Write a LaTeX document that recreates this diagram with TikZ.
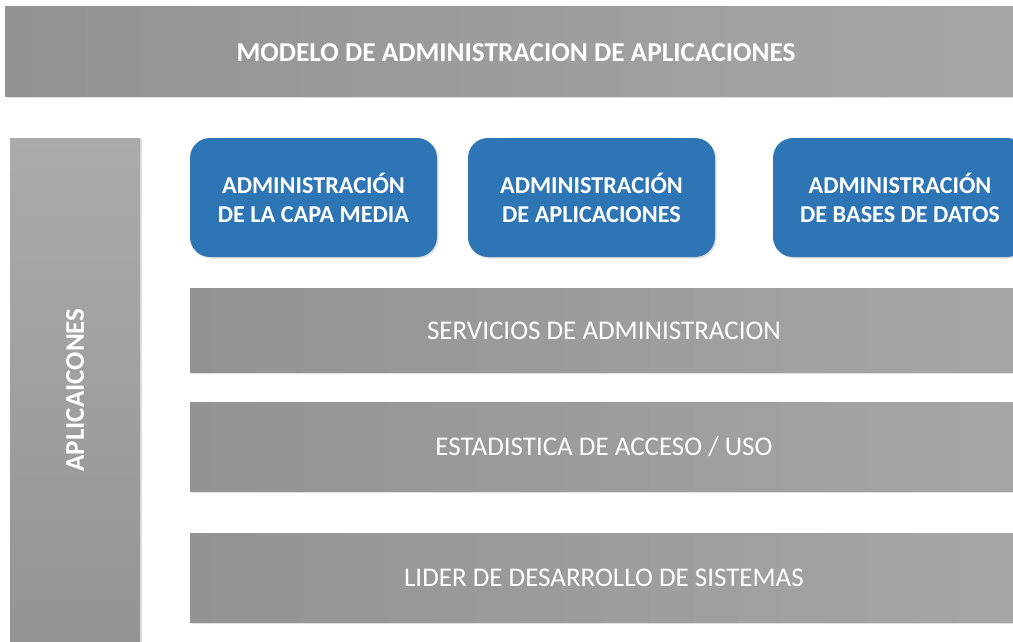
\documentclass[tikz,border=0pt]{standalone}
\usepackage{fontspec}
\setmainfont{Carlito}
\usetikzlibrary{shadows}
\definecolor{bluebox}{HTML}{2E75B6}
\definecolor{grayA}{HTML}{939393}
\definecolor{grayB}{HTML}{ABABAB}
\tikzset{
  px/.style={x=1pt,y=-1pt},
  graybar/.style={left color=grayA, right color=grayB!80!grayA, draw=none,
    drop shadow={shadow xshift=1.5pt,shadow yshift=-1.5pt,opacity=0.25}},
  bluebx/.style={fill=bluebox, draw=none, rounded corners=20pt,
    drop shadow={shadow xshift=1.5pt,shadow yshift=-1.5pt,opacity=0.25}},
  bartext/.style={text=white, font=\fontsize{27}{30}\selectfont},
  boldtext/.style={text=white, font=\bfseries\fontsize{24.2}{29}\selectfont, align=center},
}
\begin{document}
\begin{tikzpicture}[px]
\useasboundingbox (0,0) rectangle (1013,642);
\clip (0,0) rectangle (1013,642);
\fill[white] (0,0) rectangle (1013,642);
% top bar
\path[graybar] (5,7) rectangle (1030,97);
\node[boldtext, font=\bfseries\fontsize{27.3}{30}\selectfont] (title) at (516,53) {MODELO DE ADMINISTRACION DE APLICACIONES};
% left vertical bar
\path[top color=grayB, bottom color=grayA, draw=none,
  drop shadow={shadow xshift=2pt,shadow yshift=-1pt,opacity=0.25}] (10,138) rectangle (140,660);
\node[boldtext, font=\bfseries\fontsize{27}{30}\selectfont, rotate=90] (apl) at (75,390) {APLICAICONES};
% blue boxes
\path[bluebx] (190,138) rectangle (437,257);
\node[boldtext] (b1) at (313.5,197.5) {ADMINISTRACIÓN\\DE LA CAPA MEDIA};
\path[bluebx] (468,138) rectangle (715,257);
\node[boldtext] (b2) at (591.5,197.5) {ADMINISTRACIÓN\\DE APLICACIONES};
\path[bluebx] (773,138) rectangle (1027,257);
\node[boldtext] (b3) at (900,197.5) {ADMINISTRACIÓN\\DE BASES DE DATOS};
% gray bars
\path[graybar] (190,288) rectangle (1030,372);
\node[bartext] (s1) at (604,331) {SERVICIOS DE ADMINISTRACION};
\path[graybar] (190,402) rectangle (1030,491);
\node[bartext] (s2) at (604,447) {ESTADISTICA DE ACCESO / USO};
\path[graybar] (190,533) rectangle (1030,622);
\node[bartext] (s3) at (604,578) {LIDER DE DESARROLLO DE SISTEMAS};
\end{tikzpicture}
\end{document}
